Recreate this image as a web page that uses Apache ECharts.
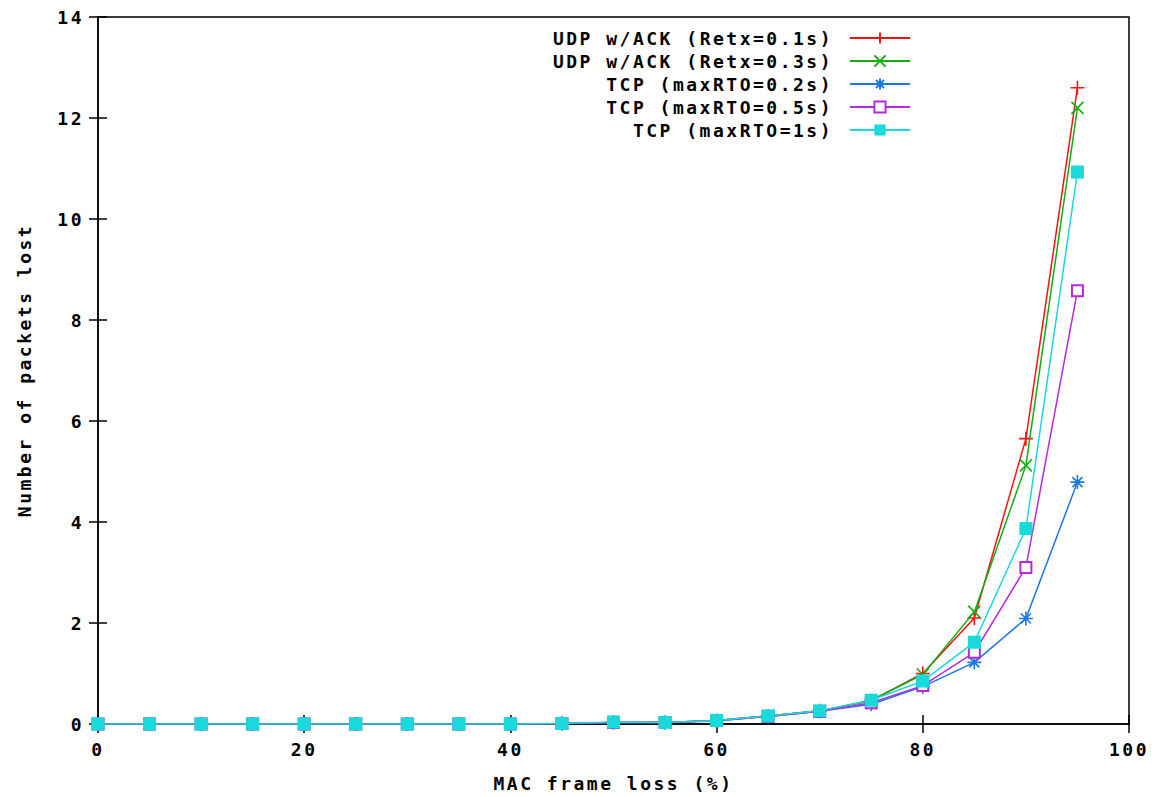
<!DOCTYPE html>
<html>
<head>
<meta charset="utf-8">
<script src="https://cdn.jsdelivr.net/npm/echarts@6/dist/echarts.min.js"></script>
<style>
  html, body { margin: 0; padding: 0; background: #fff; }
  #chart { width: 1157px; height: 797px; }
  #chart svg text { letter-spacing: 2.5px; }
</style>
</head>
<body>
<div id="chart"></div>
<script>
// ---- data ----
const frameLoss = [0, 5, 10, 15, 20, 25, 30, 35, 40, 45, 50, 55, 60, 65, 70, 75, 80, 85, 90, 95];
const udpRetx01 = [0, 0, 0, 0, 0, 0, 0, 0, 0, 0.01, 0.03, 0.03, 0.07, 0.16, 0.26, 0.46, 1.0, 2.1, 5.65, 12.6];
const udpRetx03 = [0, 0, 0, 0, 0, 0, 0, 0, 0, 0.01, 0.03, 0.03, 0.07, 0.16, 0.26, 0.47, 0.98, 2.22, 5.12, 12.2];
const tcpRto02  = [0, 0, 0, 0, 0, 0, 0, 0, 0, 0.01, 0.03, 0.03, 0.06, 0.15, 0.25, 0.39, 0.74, 1.22, 2.09, 4.79];
const tcpRto05  = [0, 0, 0, 0, 0, 0, 0, 0, 0, 0.01, 0.03, 0.03, 0.07, 0.15, 0.25, 0.42, 0.76, 1.42, 3.1, 8.58];
const tcpRto1   = [0, 0, 0, 0, 0, 0, 0, 0, 0, 0.01, 0.04, 0.03, 0.07, 0.16, 0.26, 0.47, 0.85, 1.62, 3.87, 10.93];
const seriesNames = [
  'UDP w/ACK (Retx=0.1s)',
  'UDP w/ACK (Retx=0.3s)',
  'TCP (maxRTO=0.2s)',
  'TCP (maxRTO=0.5s)',
  'TCP (maxRTO=1s)'
];
const xAxisTitle = 'MAC frame loss (%)';
const yAxisTitle = 'Number of packets lost';

// ---- styling ----
const FONT = 'DejaVu Sans Mono';
const colors = ['#ff1010', '#10b010', '#1878e8', '#b828e0', '#18dada'];
const symbols = [
  'path://M0,7L14,7M7,0L7,14',
  'path://M0,0L14,14M0,14L14,0',
  'path://M0,7L14,7M7,0L7,14M2,2L12,12M2,12L12,2',
  'emptyRect',
  'rect'
];
const sizes = [14, 12, 14, 11, 13];
const allData = [udpRetx01, udpRetx03, tcpRto02, tcpRto05, tcpRto1];

const series = allData.map((vals, i) => ({
  name: seriesNames[i],
  type: 'line',
  data: frameLoss.map((x, j) => [x, vals[j]]),
  symbol: symbols[i],
  symbolSize: sizes[i],
  showAllSymbol: true,
  lineStyle: { color: colors[i], width: 1.5 },
  itemStyle: {
    color: colors[i],
    borderColor: colors[i],
    borderWidth: i === 4 ? 0 : 1.6
  },
  emphasis: { disabled: true },
  animation: false,
  z: 2 + i
}));

const chart = echarts.init(document.getElementById('chart'), null, { renderer: 'svg' });
const labelStyle = { fontFamily: FONT, fontWeight: 'bold', fontSize: 18, color: '#000' };

chart.setOption({
  backgroundColor: '#fff',
  animation: false,
  grid: {
    left: 98, right: 28, top: 17, bottom: 70,
    show: true, borderColor: '#000', borderWidth: 1.5, backgroundColor: 'transparent'
  },
  legend: {
    orient: 'vertical',
    align: 'right',
    right: 246,
    top: 29,
    padding: 0,
    itemWidth: 60,
    itemHeight: 14,
    itemGap: 5,
    textStyle: Object.assign({}, labelStyle, { lineHeight: 18, padding: [0, 12, 0, 0] }),
    data: seriesNames
  },
  xAxis: [{
    type: 'value',
    min: 0, max: 100, interval: 20,
    name: xAxisTitle,
    nameLocation: 'middle',
    nameGap: 50,
    nameTextStyle: labelStyle,
    axisLine: { show: true, onZero: false, lineStyle: { color: '#000', width: 1.5 } },
    axisTick: { show: true, inside: true, length: 9, lineStyle: { color: '#000', width: 1.5 } },
    axisLabel: Object.assign({ margin: 16 }, labelStyle),
    splitLine: { show: false }
  }, {
    type: 'value',
    position: 'top',
    min: 0, max: 100, interval: 20,
    axisLine: { show: false },
    axisTick: { show: true, inside: true, length: 9, lineStyle: { color: '#000', width: 1.5 } },
    axisLabel: { show: false },
    splitLine: { show: false }
  }],
  yAxis: [{
    type: 'value',
    min: 0, max: 14, interval: 2,
    name: yAxisTitle,
    nameLocation: 'middle',
    nameGap: 65,
    nameRotate: 90,
    nameTextStyle: labelStyle,
    axisLine: { show: true, onZero: false, lineStyle: { color: '#000', width: 1.5 } },
    axisTick: { show: true, inside: true, length: 9, lineStyle: { color: '#000', width: 1.5 } },
    axisLabel: Object.assign({ margin: 14 }, labelStyle),
    splitLine: { show: false }
  }, {
    type: 'value',
    position: 'right',
    min: 0, max: 14, interval: 2,
    axisLine: { show: false },
    axisTick: { show: true, inside: true, length: 9, lineStyle: { color: '#000', width: 1.5 } },
    axisLabel: { show: false },
    splitLine: { show: false }
  }],
  series: series
});
</script>
</body>
</html>
